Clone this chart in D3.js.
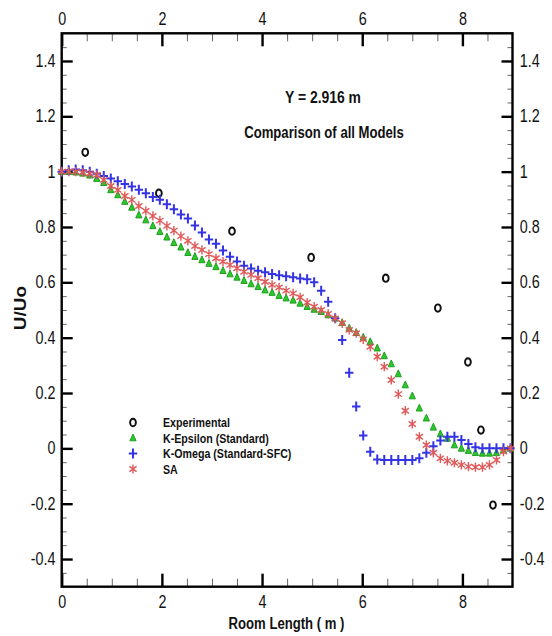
<!DOCTYPE html>
<html>
<head>
<meta charset="utf-8">
<script src="https://cdn.jsdelivr.net/npm/d3@7/dist/d3.min.js"></script>
<style>
  html, body { margin: 0; padding: 0; background: #fff; }
  svg { display: block; }
  text { font-family: "Liberation Sans", Arial, Helvetica, sans-serif; fill: #111; }
</style>
</head>
<body>
<svg id="chart" width="552" height="636"></svg>
<script>
// Velocity profiles U/Uo along the room length at Y = 2.916 m

// Sample positions of the CFD profiles (m)
const roomX = [0.00, 0.14, 0.28, 0.42, 0.56, 0.70, 0.84, 0.98, 1.12, 1.26, 1.40, 1.54, 1.68, 1.82, 1.96,
  2.10, 2.24, 2.38, 2.52, 2.66, 2.80, 2.94, 3.08, 3.22, 3.36, 3.50, 3.64, 3.78, 3.92, 4.06, 4.20,
  4.34, 4.48, 4.62, 4.76, 4.90, 5.04, 5.18, 5.32, 5.46, 5.60, 5.74, 5.88, 6.02, 6.16, 6.30, 6.44,
  6.58, 6.72, 6.86, 7.00, 7.14, 7.28, 7.42, 7.56, 7.70, 7.84, 7.98, 8.12, 8.26, 8.40, 8.54, 8.68,
  8.82, 8.96];

const kEpsilon = [1.000, 1.000, 0.998, 0.994, 0.987, 0.975, 0.960, 0.934, 0.916, 0.892, 0.871, 0.843,
  0.825, 0.804, 0.783, 0.763, 0.743, 0.727, 0.707, 0.693, 0.681, 0.668, 0.656, 0.642, 0.630, 0.618,
  0.606, 0.594, 0.584, 0.572, 0.563, 0.552, 0.543, 0.535, 0.524, 0.512, 0.502, 0.494, 0.482, 0.470,
  0.454, 0.434, 0.418, 0.401, 0.385, 0.362, 0.334, 0.305, 0.269, 0.229, 0.189, 0.145, 0.109, 0.076,
  0.052, 0.036, 0.012, 0.000, -0.008, -0.016, -0.018, -0.018, -0.016, -0.006, 0.000];

const kOmega = [1.000, 1.005, 1.008, 1.005, 1.000, 0.992, 0.984, 0.975, 0.965, 0.955, 0.946, 0.935,
  0.922, 0.908, 0.898, 0.882, 0.864, 0.845, 0.831, 0.805, 0.780, 0.755, 0.739, 0.715, 0.692, 0.675,
  0.660, 0.650, 0.642, 0.636, 0.630, 0.626, 0.622, 0.618, 0.614, 0.611, 0.600, 0.570, 0.530, 0.470,
  0.392, 0.273, 0.151, 0.046, -0.012, -0.040, -0.042, -0.042, -0.042, -0.042, -0.042, -0.036, -0.016,
  0.008, 0.028, 0.042, 0.042, 0.030, 0.016, 0.004, 0.000, 0.000, 0.000, 0.000, 0.000];

const sa = [1.000, 1.000, 1.000, 0.997, 0.993, 0.988, 0.970, 0.948, 0.934, 0.912, 0.898, 0.876,
  0.858, 0.840, 0.823, 0.804, 0.787, 0.767, 0.750, 0.731, 0.717, 0.702, 0.687, 0.675, 0.663, 0.651,
  0.638, 0.627, 0.615, 0.602, 0.591, 0.582, 0.570, 0.560, 0.546, 0.527, 0.512, 0.500, 0.486, 0.470,
  0.452, 0.428, 0.416, 0.394, 0.367, 0.331, 0.295, 0.247, 0.196, 0.136, 0.088, 0.042, 0.012, -0.016,
  -0.036, -0.045, -0.052, -0.060, -0.066, -0.068, -0.068, -0.060, -0.042, -0.012, 0.000];

// Measured points
const expX = [0.47, 1.94, 3.40, 4.98, 6.47, 7.51, 8.11, 8.37, 8.61];
const expY = [1.070, 0.922, 0.785, 0.690, 0.615, 0.507, 0.312, 0.066, -0.205];

// Legend entries
const seriesNames = ["Experimental", "K-Epsilon (Standard)", "K-Omega (Standard-SFC)", "SA"];

// Axis ticks
const xMajorTicks = [0, 2, 4, 6, 8];
const xMinorTicks = [0.5, 1, 1.5, 2.5, 3, 3.5, 4.5, 5, 5.5, 6.5, 7, 7.5, 8.5];
const yMajorTicks = [-0.4, -0.2, 0, 0.2, 0.4, 0.6, 0.8, 1, 1.2, 1.4];
const yMinorTicks = [-0.45, -0.35, -0.3, -0.25, -0.15, -0.1, -0.05, 0.05, 0.1, 0.15, 0.25, 0.3, 0.35,
  0.45, 0.5, 0.55, 0.65, 0.7, 0.75, 0.85, 0.9, 0.95, 1.05, 1.1, 1.15, 1.25, 1.3, 1.35, 1.45];

const titleLines = ["Y = 2.916 m", "Comparison of all Models"];
const xTitle = "Room Length ( m )";
const yTitle = "U/Uo";

// ---------------------------------------------------------------
const svg = d3.select("#chart");
const plotLeft = 61.7, plotRight = 512.5, plotTop = 33.3, plotBottom = 586.7;
const squeeze = 0.82;   // narrow lettering

const x = d3.scaleLinear().domain([0, 9]).range([plotLeft, plotRight]);
const y = d3.scaleLinear().domain([-0.5, 1.5]).range([plotBottom, plotTop]);

const colors = { exp: "#111111", ke: "#2cc82c", kw: "#3434e6", sa: "#e05858" };

// minor ticks
function minorAxis(axis, pos) {
  const g = svg.append("g").attr("transform", pos).call(axis);
  g.select(".domain").remove();
  g.selectAll("line").attr("stroke", "#666").attr("stroke-width", 1);
  g.selectAll("text").remove();
}
minorAxis(d3.axisBottom(x).tickValues(xMinorTicks).tickSize(-8), `translate(0,${plotBottom})`);
minorAxis(d3.axisTop(x).tickValues(xMinorTicks).tickSize(-8), `translate(0,${plotTop})`);
minorAxis(d3.axisLeft(y).tickValues(yMinorTicks).tickSize(-5), `translate(${plotLeft},0)`);
minorAxis(d3.axisRight(y).tickValues(yMinorTicks).tickSize(-5), `translate(${plotRight},0)`);

// major ticks with labels
const fmt = d => String(d);
function majorAxis(axis, pos) {
  const g = svg.append("g").attr("transform", pos).call(axis);
  g.select(".domain").remove();
  g.selectAll("line").attr("stroke", "#000").attr("stroke-width", 2.4);
  g.selectAll("text")
    .attr("font-size", 17.5)
    .attr("fill", "#111")
    .style("font-family", '"Liberation Sans", Arial, sans-serif');
  return g;
}
const gB = majorAxis(d3.axisBottom(x).tickValues(xMajorTicks).tickFormat(fmt).tickSize(-13).tickPadding(8.5),
  `translate(0,${plotBottom})`);
const gT = majorAxis(d3.axisTop(x).tickValues(xMajorTicks).tickFormat(fmt).tickSize(-13).tickPadding(8.5),
  `translate(0,${plotTop})`);
const gL = majorAxis(d3.axisLeft(y).tickValues(yMajorTicks).tickFormat(fmt).tickSize(-11).tickPadding(7.5),
  `translate(${plotLeft},0)`);
const gR = majorAxis(d3.axisRight(y).tickValues(yMajorTicks).tickFormat(fmt).tickSize(-11).tickPadding(9),
  `translate(${plotRight},0)`);
[gB, gT, gL, gR].forEach(g => g.selectAll("text").attr("transform", `scale(${squeeze},1)`));

// frame
svg.append("rect")
  .attr("x", plotLeft).attr("y", plotTop)
  .attr("width", plotRight - plotLeft).attr("height", plotBottom - plotTop)
  .attr("fill", "none").attr("stroke", "#000").attr("stroke-width", 2.4);

// text helper with narrow lettering
function label(tx, ty, str, size, weight, anchor) {
  return svg.append("text")
    .attr("transform", `translate(${tx},${ty}) scale(${squeeze},1)`)
    .attr("text-anchor", anchor)
    .attr("font-size", size)
    .attr("font-weight", weight)
    .text(str);
}

// marker shapes
const markerPath = {
  ke: "M0,-4L3.1,2.8L-3.1,2.8Z",
  kw: "M-4.2,0H4.2M0,-5V5",
  sa: "M0,-4.6V4.6M-3.6,-2.6L3.6,2.6M-3.6,2.6L3.6,-2.6"
};
function drawMarker(sel, key) {
  if (key === "exp") {
    sel.append("ellipse").attr("rx", 2.9).attr("ry", 3.7)
      .attr("fill", "none").attr("stroke", colors.exp).attr("stroke-width", 1.9);
  } else if (key === "ke") {
    sel.append("path").attr("d", markerPath.ke)
      .attr("fill", colors.ke).attr("stroke", "#1f9e1f").attr("stroke-width", 1)
      .attr("stroke-linejoin", "round");
  } else if (key === "kw") {
    sel.append("path").attr("d", markerPath.kw)
      .attr("fill", "none").attr("stroke", colors.kw).attr("stroke-width", 2);
  } else {
    sel.append("path").attr("d", markerPath.sa)
      .attr("fill", "none").attr("stroke", colors.sa).attr("stroke-width", 1.4);
  }
}

function plotSeries(xs, ys, key) {
  const g = svg.append("g").attr("class", "series-" + key);
  xs.forEach((xv, i) => {
    const m = g.append("g").attr("transform", `translate(${x(xv)},${y(ys[i])})`);
    drawMarker(m, key);
  });
}

plotSeries(expX, expY, "exp");
plotSeries(roomX, kEpsilon, "ke");
plotSeries(roomX, kOmega, "kw");
plotSeries(roomX, sa, "sa");

// titles inside the plot
label(323, 103, titleLines[0], 17, "bold", "middle");
label(324, 138, titleLines[1], 16, "bold", "middle");

// axis titles
label(286.5, 629, xTitle, 16, "bold", "middle");
svg.append("text")
  .attr("transform", `translate(26,308) scale(${squeeze},1) rotate(-90)`)
  .attr("text-anchor", "middle")
  .attr("font-size", 19)
  .attr("font-weight", "bold")
  .text(yTitle);

// legend
const legendKeys = ["exp", "ke", "kw", "sa"];
const legendBase = [427, 442.5, 458, 473.5];
legendKeys.forEach((k, i) => {
  const m = svg.append("g").attr("transform", `translate(133,${legendBase[i] - 4.5})`);
  drawMarker(m, k);
  label(163, legendBase[i], seriesNames[i], 13, "bold", "start");
});
</script>
</body>
</html>
